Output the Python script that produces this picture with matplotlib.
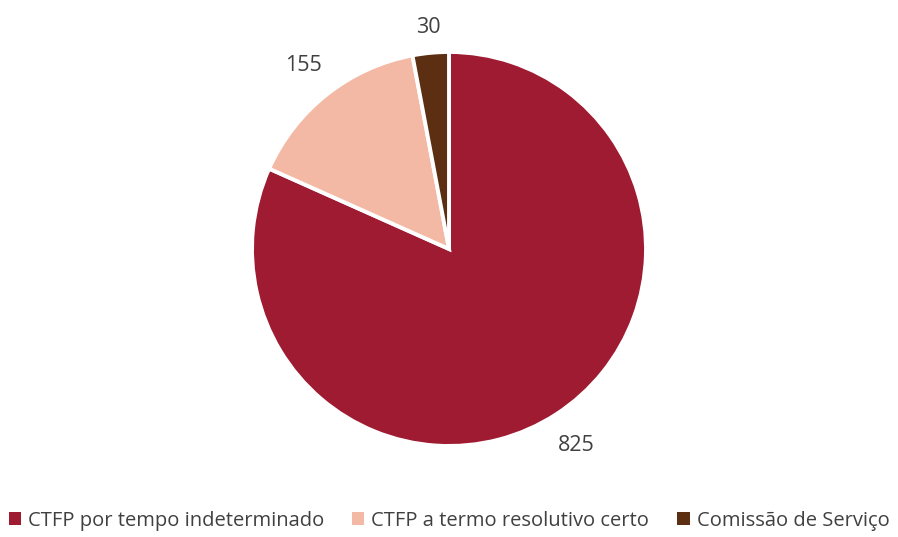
import matplotlib
matplotlib.use('Agg')
import numpy as np
import matplotlib.pyplot as plt
from matplotlib.patches import Patch

plt.rcParams['font.family'] = ['Open Sans', 'DejaVu Sans']

categories = ['CTFP por tempo indeterminado', 'CTFP a termo resolutivo certo', 'Comissão de Serviço']
values = [825, 155, 30]
colors = ['#9E1B32', '#F4B9A4', '#5C2E12']
label_dist = [1.19, 1.19, 1.13]
text_color = '#404040'

fig = plt.figure(figsize=(8.98, 5.37), dpi=100)
ax = fig.add_axes([0.2806, 0.1695, 0.4388, 0.7337])

wedges, texts = ax.pie(values, labels=[str(v) for v in values], colors=colors,
                       startangle=90, counterclock=False, labeldistance=1.0,
                       wedgeprops=dict(edgecolor='white', linewidth=2.8),
                       textprops=dict(color=text_color, fontsize=15.5))
for t, d in zip(texts, label_dist):
    x, y = t.get_position()
    t.set_position((x * d, y * d))
    t.set_ha('center')
    t.set_va('center')
ax.set_xlim(-1, 1)
ax.set_ylim(-1, 1)
ax.set_aspect('equal')

handles = [Patch(facecolor=c, edgecolor='none') for c in colors]
fig.legend(handles, categories, loc='lower center', bbox_to_anchor=(0.5, -0.022),
           ncol=3, frameon=False, fontsize=14.5, labelcolor=text_color,
           handlelength=0.6, handleheight=0.6, handletextpad=0.35, columnspacing=1.4)

fig.savefig('out.png', dpi=100)
